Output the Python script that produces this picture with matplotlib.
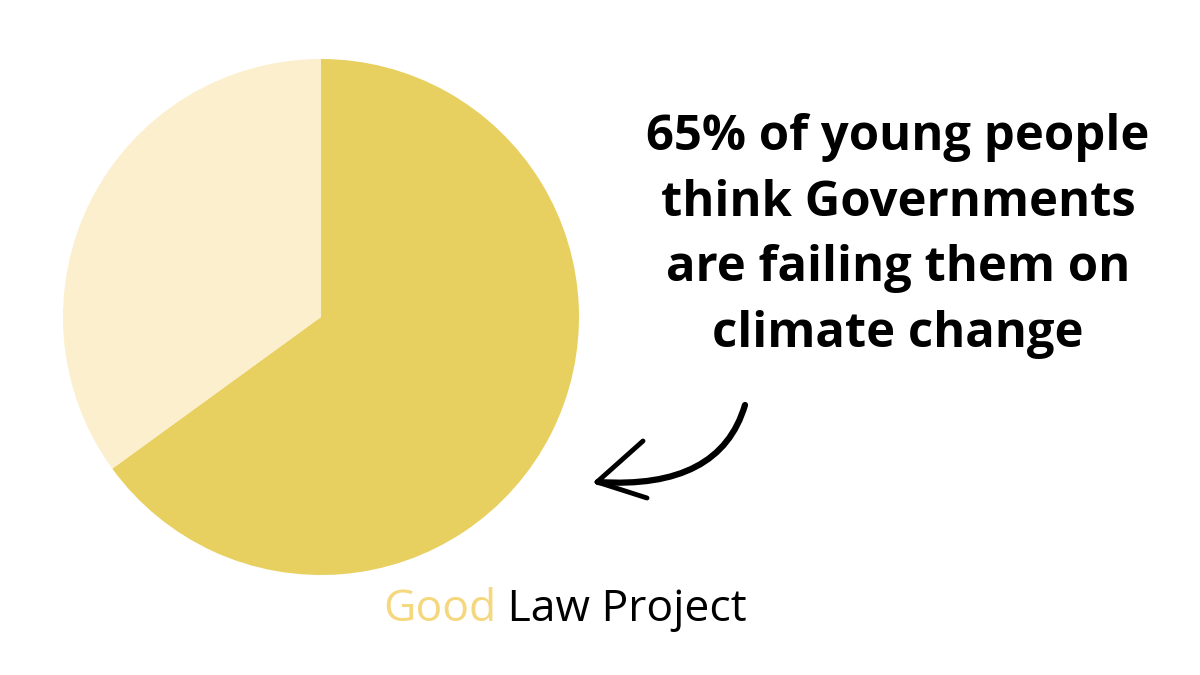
import matplotlib.pyplot as plt
from matplotlib.path import Path
from matplotlib.patches import PathPatch

shares = [65, 35]
slice_labels = ['Governments failing', 'Other']
slice_colors = ['#E8D060', '#FCEFCD']

headline = '65% of young people\nthink Governments\nare failing them on\nclimate change'
brand_first = 'Good'
brand_rest = ' Law Project'

W, H = 1200, 675
fig = plt.figure(figsize=(12, 6.75), dpi=100)
fig.patch.set_facecolor('white')

# pie in its own axes, placed in pixels
ax_pie = fig.add_axes([63 / W, (H - 575) / H, 516 / W, 516 / H])
ax_pie.pie(shares, colors=slice_colors, startangle=90, counterclock=False,
           radius=1.0, wedgeprops={'linewidth': 0})
ax_pie.set_xlim(-1, 1)
ax_pie.set_ylim(-1, 1)
ax_pie.set_aspect('equal')
ax_pie.axis('off')

# overlay in pixel coordinates for text and arrow
ax = fig.add_axes([0, 0, 1, 1])
ax.set_xlim(0, W)
ax.set_ylim(H, 0)
ax.axis('off')

ax.text(898, 236, headline, ha='center', va='center', fontsize=35.3,
        fontweight='bold', family='Open Sans', linespacing=1.45, color='black')

t1 = ax.text(383, 610, brand_first, ha='left', va='center', fontsize=32,
             family='Open Sans', color='#F5D77E')
fig.canvas.draw()
bb = t1.get_window_extent()
ax.annotate(brand_rest, xy=(bb.x1, H - 610), xycoords='figure pixels',
            ha='left', va='center', fontsize=32, family='Open Sans', color='black')

# hand-drawn arrow
curve = Path([(745, 405), (720, 490), (598, 482)],
             [Path.MOVETO, Path.CURVE3, Path.CURVE3])
ax.add_patch(PathPatch(curve, fill=False, lw=4.5, color='black', capstyle='round'))
ax.plot([597, 643], [482, 441], color='black', lw=3.5, solid_capstyle='round')
ax.plot([597, 647], [482, 498], color='black', lw=3.5, solid_capstyle='round')

fig.savefig('out.png', dpi=100)
